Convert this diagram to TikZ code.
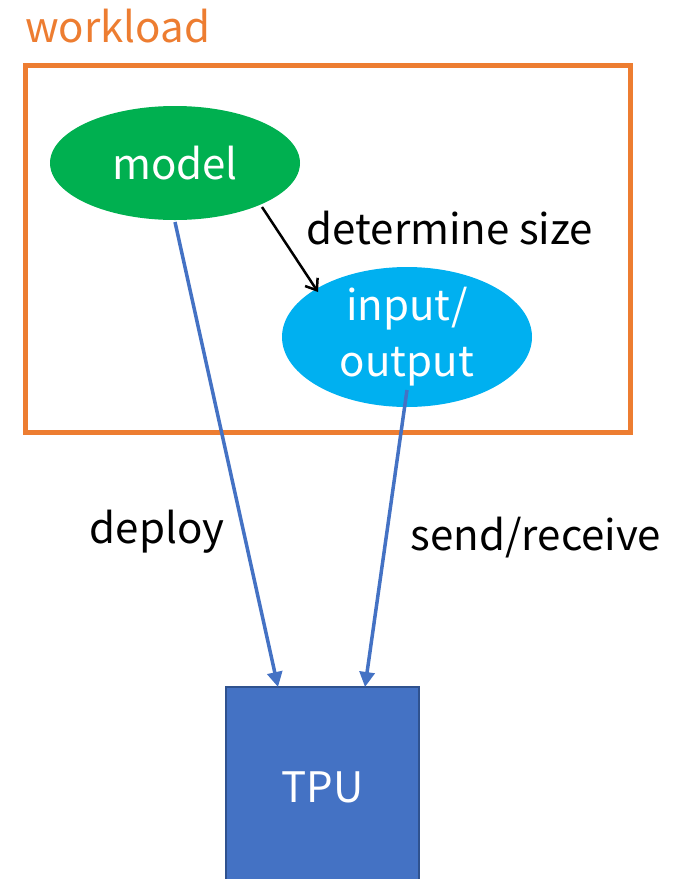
\documentclass[tikz,border=0pt]{standalone}
\usepackage{fontspec}
\setmainfont{Noto Sans CJK SC}
\usetikzlibrary{arrows.meta,shapes.geometric}
\definecolor{orng}{HTML}{ED7D31}
\definecolor{grn}{HTML}{00B050}
\definecolor{cyn}{HTML}{00B0F0}
\definecolor{blu}{HTML}{4472C4}
\definecolor{dblu}{HTML}{2F528F}
\begin{document}
\begin{tikzpicture}[x=1pt,y=-1pt,
  txt/.style={font=\fontsize{42}{50}\selectfont, inner sep=0pt},
  ell/.style={ellipse, minimum width=250pt, minimum height=114pt, inner sep=0pt, text=white, align=center, font=\fontsize{42}{56}\selectfont},
  bluearrow/.style={draw=blu, line width=3.5pt, -{Triangle[width=15pt,length=15pt]}},
]
\useasboundingbox (0,0) rectangle (680,879);
\node[txt, text=orng, anchor=west] (wl) at (25,26) {workload};
\node[draw=orng, line width=5pt, minimum width=605pt, minimum height=367pt, inner sep=0pt] (box) at (327.5,248.5) {};
\node[ell, fill=grn] (model) at (175,163) {model};
\node[ell, fill=cyn, minimum height=110pt] (io) at (407,337) {input/\\output};
\node[draw=dblu, fill=blu, line width=2pt, minimum width=193pt, minimum height=200pt, inner sep=0pt, text=white, font=\fontsize{42}{50}\selectfont] (tpu) at (322.5,787) {TPU};
\coordinate (m1) at (262,207);
\coordinate (i1) at (318,292);
\draw[line width=2.5pt, -{Straight Barb[width=15pt,length=10pt]}] (m1) -- (i1);
\coordinate (ms) at (175,222);
\coordinate (te1) at (278,687);
\coordinate (is) at (407,390);
\coordinate (te2) at (365,687);
\draw[bluearrow] (ms) -- (te1);
\draw[bluearrow] (is) -- (te2);
\node[txt] (det) at (450,228) {determine size};
\node[txt] (dep) at (157,532) {deploy};
\node[txt] (sr) at (536,538) {send/receive};
\end{tikzpicture}
\end{document}
